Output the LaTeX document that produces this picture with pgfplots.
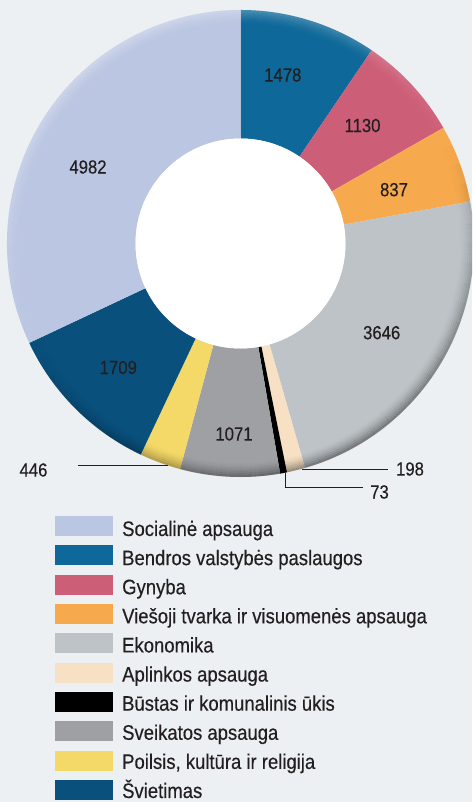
\documentclass[border=0pt]{standalone}
\usepackage{pgfplots}
\pgfplotsset{compat=1.18}
\usepackage{pgfplotstable}
\usepackage{fontspec}
\setmainfont{Liberation Sans}[FakeStretch=0.88, FakeBold=0.35]
\definecolor{bg}{HTML}{ECF0F2}
\definecolor{c1}{HTML}{0E6899}
\definecolor{c2}{HTML}{CD5E77}
\definecolor{c3}{HTML}{F7A94D}
\definecolor{c4}{HTML}{BDC3C7}
\definecolor{c5}{HTML}{F8E0C4}
\definecolor{c6}{HTML}{000000}
\definecolor{c7}{HTML}{9EA0A4}
\definecolor{c8}{HTML}{F4D868}
\definecolor{c9}{HTML}{0A507D}
\definecolor{c10}{HTML}{BBC6E2}
\definecolor{txt}{HTML}{231F20}
\def\cx{240.5}\def\cy{558.5}\def\Rout{233.5}\def\Rin{105}
\pgfplotstableread[col sep=comma]{
val,col,lx,ly
1478,c1,282.8,727
1130,c2,362.5,676.5
837,c3,394,612.3
3646,c4,381.7,469.3
198,c5,410,333
73,c6,379.5,310
1071,c7,234,368
446,c8,33.5,332
1709,c9,118.3,434.5
4982,c10,88,635
}\slices
\begin{document}
\begin{tikzpicture}
\begin{axis}[x=1pt,y=1pt,xmin=0,xmax=472,ymin=0,ymax=802,hide axis]
\fill[bg] (axis cs:0,0) rectangle (axis cs:472,802);
\pgfmathsetmacro\total{0}
\pgfplotsforeachungrouped \i in {0,...,9}{%
  \pgfplotstablegetelem{\i}{val}\of\slices
  \pgfmathsetmacro\total{\total+\pgfplotsretval}%
}
\def\cum{0}
\pgfplotsforeachungrouped \i in {0,...,9}{%
  \pgfplotstablegetelem{\i}{val}\of\slices \let\sval\pgfplotsretval
  \pgfplotstablegetelem{\i}{col}\of\slices \let\scol\pgfplotsretval
  \pgfmathsetmacro\aa{90-360*(\cum/\total)}%
  \pgfmathsetmacro\ab{90-360*((\cum+\sval)/\total)}%
  \pgfmathsetmacro\xa{\cx+\Rout*cos(\aa)}%
  \pgfmathsetmacro\ya{\cy+\Rout*sin(\aa)}%
  \pgfmathsetmacro\xb{\cx+\Rin*cos(\ab)}%
  \pgfmathsetmacro\yb{\cy+\Rin*sin(\ab)}%
  \edef\temp{\noexpand\fill[\scol] (axis cs:\xa,\ya) arc[start angle=\aa, end angle=\ab, radius=\Rout pt] -- (axis cs:\xb,\yb) arc[start angle=\ab, end angle=\aa, radius=\Rin pt] -- cycle;}%
  \temp
  \pgfmathsetmacro\cum{\cum+\sval}%
}
% rim light/shadow (decorative)
\pgfplotsforeachungrouped \i in {0,...,503}{%
  \pgfmathtruncatemacro\kk{floor(\i/7)}%
  \pgfmathtruncatemacro\jj{\i-7*\kk}%
  \pgfmathsetmacro\pa{5*\kk}%
  \pgfmathsetmacro\pb{5*\kk+5}%
  \pgfmathsetmacro\ss{cos(5*\kk+2.5-115)}%
  \pgfmathsetmacro\rr{\Rout-1-2*\jj}%
  \pgfmathsetmacro\fj{(1-\jj/7)^1.6}%
  \pgfmathsetmacro\op{ifthenelse(\ss<0,-0.36*\ss*\fj,0.26*\ss*\fj)}%
  \pgfmathsetmacro\xs{\cx+\rr*cos(\pa)}%
  \pgfmathsetmacro\ys{\cy+\rr*sin(\pa)}%
  \ifdim\ss pt<0pt \def\rc{black}\else\def\rc{white}\fi
  \edef\temp{\noexpand\draw[\rc, opacity=\op, line width=2.05pt] (axis cs:\xs,\ys) arc[start angle=\pa, end angle=\pb, radius=\rr pt];}%
  \temp
}
\fill[white] (axis cs:240.5,558.5) circle[radius=105pt];
\addplot[draw=none, mark=none, nodes near coords, point meta=explicit symbolic,
  every node near coord/.append style={anchor=center, font=\fontsize{19}{19}\selectfont, text=txt, inner sep=0pt}]
  table[x=lx, y=ly, meta=val] {\slices};
\addplot[txt, line width=0.9pt, mark=none] coordinates {(78,336.3) (168,336.3)};
\addplot[txt, line width=0.9pt, mark=none] coordinates {(302,333) (388,333)};
\addplot[txt, line width=0.9pt, mark=none] coordinates {(285,329) (285,315) (363,315)};
% legend
\fill[c10] (axis cs:55,266) rectangle (axis cs:113,286);
\fill[c1] (axis cs:55,236.67) rectangle (axis cs:113,256.67);
\fill[c2] (axis cs:55,207.33) rectangle (axis cs:113,227.33);
\fill[c3] (axis cs:55,178) rectangle (axis cs:113,198);
\fill[c4] (axis cs:55,148.67) rectangle (axis cs:113,168.67);
\fill[c5] (axis cs:55,119.33) rectangle (axis cs:113,139.33);
\fill[c6] (axis cs:55,90) rectangle (axis cs:113,110);
\fill[c7] (axis cs:55,60.67) rectangle (axis cs:113,80.67);
\fill[c8] (axis cs:55,31.33) rectangle (axis cs:113,51.33);
\fill[c9] (axis cs:55,2) rectangle (axis cs:113,22);
\begin{scope}[every node/.style={anchor=base west, inner sep=0pt, text=txt, font=\fontsize{21}{21}\selectfont}]
\node at (axis cs:122,266) {Socialinė apsauga};
\node at (axis cs:122,236.89) {Bendros valstybės paslaugos};
\node at (axis cs:122,207.78) {Gynyba};
\node at (axis cs:122,178.67) {Viešoji tvarka ir visuomenės apsauga};
\node at (axis cs:122,149.56) {Ekonomika};
\node at (axis cs:122,120.45) {Aplinkos apsauga};
\node at (axis cs:122,91.34) {Būstas ir komunalinis ūkis};
\node at (axis cs:122,62.23) {Sveikatos apsauga};
\node at (axis cs:122,33.12) {Poilsis, kultūra ir religija};
\node at (axis cs:122,4.01) {Švietimas};
\end{scope}
\end{axis}
\end{tikzpicture}
\end{document}
